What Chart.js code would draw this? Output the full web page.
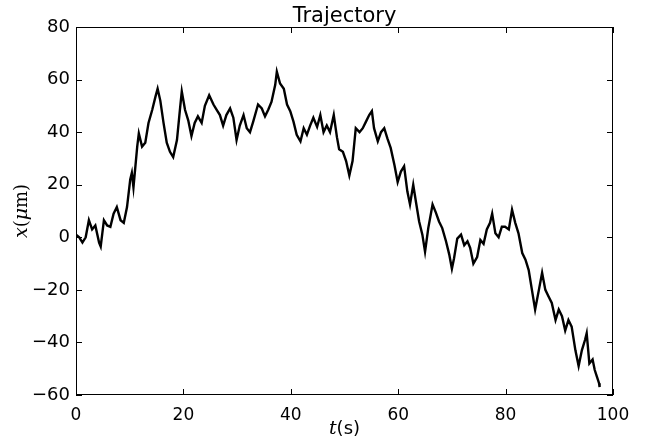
<!DOCTYPE html>
<html>
<head>
<meta charset="utf-8">
<script src="https://cdn.jsdelivr.net/npm/chart.js@4"></script>
<style>
  html, body { margin: 0; padding: 0; background: #fff; }
  #wrap { width: 651px; height: 439px; }
</style>
</head>
<body>
<div id="wrap"><canvas id="traj"></canvas></div>
<script>
// values
const times = [
  0.0, 0.6, 1.2, 1.8, 2.4, 3.0, 3.6, 4.3, 4.6, 5.2, 5.8, 6.4, 7.0, 7.6, 8.3, 8.9, 9.5,
  10.1, 10.4, 10.7, 11.4, 11.7, 12.3, 12.9, 13.5, 14.2, 14.8, 15.2, 15.7, 16.3, 16.9,
  17.5, 18.1, 18.8, 19.4, 19.7, 20.3, 20.9, 21.5, 22.1, 22.7, 23.4, 24.0, 24.8, 25.6,
  26.2, 26.8, 27.4, 28.0, 28.7, 29.3, 29.9, 30.5, 31.2, 31.8, 32.4, 33.0, 33.9, 34.6,
  35.2, 35.8, 36.4, 37.1, 37.4, 38.0, 38.7, 39.3, 39.9, 40.5, 41.1, 41.8, 42.4, 43.0,
  43.6, 44.2, 44.9, 45.5, 46.1, 46.7, 47.3, 48.0, 48.6, 49.0, 49.7, 50.3, 50.9, 51.5,
  52.1, 52.8, 53.4, 54.0, 54.6, 55.1, 55.5, 56.2, 56.8, 57.4, 58.0, 58.6, 59.3, 59.9,
  60.5, 61.1, 61.7, 62.2, 62.8, 63.3, 63.9, 64.5, 65.0, 65.6, 66.4, 67.0, 67.6, 68.2,
  68.9, 69.5, 70.0, 70.4, 71.0, 71.7, 72.3, 72.9, 73.4, 74.0, 74.7, 75.3, 75.9, 76.5,
  77.1, 77.5, 78.1, 78.7, 79.3, 79.9, 80.6, 81.2, 81.8, 82.4, 83.1, 83.7, 84.3, 84.9,
  85.5, 86.2, 86.8, 87.4, 88.0, 88.6, 89.3, 89.9, 90.5, 91.1, 91.7, 92.3, 93.0, 93.6,
  94.2, 94.8, 95.1, 95.6, 96.2, 96.6, 97.0, 97.4, 97.5
];
const position = [
  1, 0, -2, 0, 6.5, 3, 4.5, -2, -3.5, 6.5, 4.5, 4, 9, 11.5, 6.5, 5.5, 11.5,
  22, 24.5, 19, 34.5, 39.5, 34.5, 36, 43.5, 48.5, 53.5, 56.5, 52, 43.5, 36,
  32.5, 30.5, 37, 49.5, 55.5, 48.5, 44.5, 38.5, 43.5, 46, 43.5, 50, 54, 50.5,
  48.5, 46.5, 42.5, 46.5, 49, 45.5, 37, 42.5, 46.5, 41.5, 40, 44, 50.5, 49,
  46, 48.5, 51.5, 58, 63, 58.5, 56.5, 50.5, 48, 44, 39, 36.5, 41.5, 39,
  42.5, 45.5, 42, 46.5, 40, 42.5, 40, 46.5, 38, 33.5, 32.5, 29, 23.5, 29,
  41.5, 40, 41.5, 44, 46.5, 48, 41.5, 36.5, 40, 41.5, 37.5, 34, 27.5, 21,
  25, 27, 17.5, 12.5, 20, 13.5, 6, 1, -5.5, 3.5, 12.5, 9.5, 6, 3.5,
  -1.5, -6.5, -12, -8, -0.5, 1, -3, -1.5, -4, -10, -7.5, -1, -2.5, 3,
  5.5, 9, 1.5, 0, 4, 4, 3, 10.5, 5.5, 1.5, -6, -8.5, -12.5, -20,
  -27.5, -20, -13.5, -20, -22.5, -25, -31.5, -27.5, -30, -35.5, -31.5, -34, -43, -49,
  -43, -39, -36.5, -48, -46.5, -50.5, -53, -55.5, -57
];
const xTicks = [0, 20, 40, 60, 80, 100];
const yTicks = [-60, -40, -20, 0, 20, 40, 60, 80];

const points = times.map((t, i) => ({x: t, y: position[i]}));
const fmt = v => (v < 0 ? '\u2212' + Math.abs(v) : String(v));

// frame, inward ticks on all sides, title and mixed-font axis labels
const decor = {
  id: 'decor',
  afterDraw(chart) {
    const {ctx, chartArea: a, scales} = chart;
    ctx.save();
    ctx.strokeStyle = '#000';
    ctx.lineWidth = 1;
    ctx.strokeRect(a.left + 0.5, a.top + 0.5, a.right - a.left - 1, a.bottom - a.top - 1);
    ctx.beginPath();
    scales.x.ticks.forEach(tk => {
      const px = Math.round(scales.x.getPixelForValue(tk.value)) + 0.5;
      ctx.moveTo(px, a.bottom); ctx.lineTo(px, a.bottom - 6);
      ctx.moveTo(px, a.top); ctx.lineTo(px, a.top + 6);
    });
    scales.y.ticks.forEach(tk => {
      const py = Math.round(scales.y.getPixelForValue(tk.value)) + 0.5;
      ctx.moveTo(a.left, py); ctx.lineTo(a.left + 6, py);
      ctx.moveTo(a.right, py); ctx.lineTo(a.right - 6, py);
    });
    ctx.stroke();

    ctx.fillStyle = '#000';
    ctx.textAlign = 'center';
    ctx.textBaseline = 'alphabetic';
    ctx.font = '21px "DejaVu Sans"';
    ctx.fillText('Trajectory', (a.left + a.right) / 2, 22);

    const drawMixed = (parts, cx, cy) => {
      let w = 0;
      parts.forEach(p => { ctx.font = p[1]; w += ctx.measureText(p[0]).width; });
      let x = cx - w / 2;
      ctx.textAlign = 'left';
      parts.forEach(p => {
        ctx.font = p[1];
        ctx.fillText(p[0], x, cy);
        x += ctx.measureText(p[0]).width;
      });
    };
    const it = 'italic 19px "DejaVu Serif"';
    const rm = '18px "DejaVu Serif"';
    drawMixed([['t', it], ['(s)', '18px "DejaVu Sans"']], (a.left + a.right) / 2, 434);

    ctx.save();
    ctx.translate(27, (a.top + a.bottom) / 2);
    ctx.rotate(-Math.PI / 2);
    drawMixed([['x', it], ['(', rm], ['\u03bc', it], ['m)', rm]], 0, 0);
    ctx.restore();
    ctx.restore();
  }
};

new Chart(document.getElementById('traj'), {
  type: 'line',
  data: {
    datasets: [{
      label: 'x',
      data: points,
      borderColor: '#000',
      borderWidth: 2.4,
      pointRadius: 0,
      tension: 0
    }]
  },
  options: {
    responsive: true,
    maintainAspectRatio: false,
    animation: false,
    layout: {padding: {top: 27, right: 38, left: 0, bottom: 0}},
    plugins: {legend: {display: false}, tooltip: {enabled: false}},
    scales: {
      x: {
        type: 'linear', min: 0, max: 100,
        afterBuildTicks: s => { s.ticks = xTicks.map(v => ({value: v})); },
        afterFit: s => { s.height = 44; },
        grid: {display: false},
        border: {display: false},
        ticks: {color: '#000', font: {family: 'DejaVu Sans', size: 17}, padding: 2, maxRotation: 0, callback: fmt}
      },
      y: {
        type: 'linear', min: -60, max: 80,
        afterBuildTicks: s => { s.ticks = yTicks.map(v => ({value: v})); },
        afterFit: s => { s.width = 76; },
        grid: {display: false},
        border: {display: false},
        ticks: {color: '#000', font: {family: 'DejaVu Sans', size: 18}, padding: -2, callback: fmt}
      }
    }
  },
  plugins: [decor]
});
</script>
</body>
</html>
